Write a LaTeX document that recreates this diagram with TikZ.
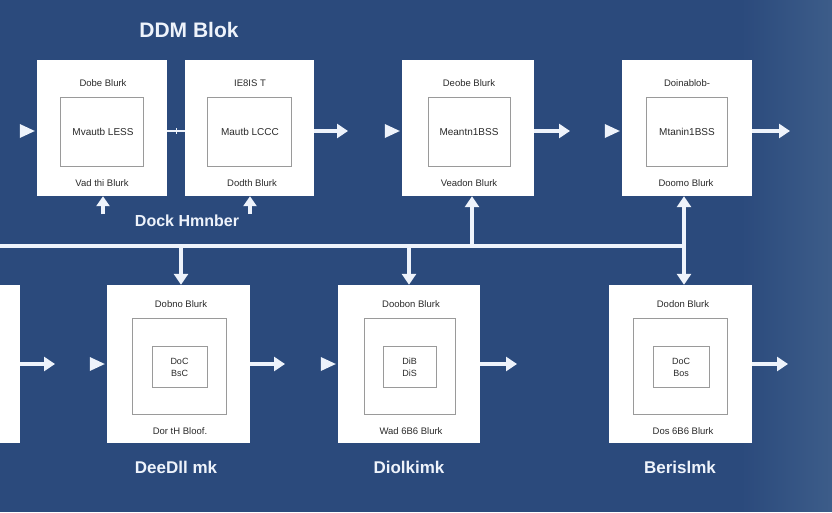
\documentclass[tikz,border=0pt]{standalone}
\usepackage{fontspec}
\setmainfont{Liberation Sans}
\usetikzlibrary{arrows.meta,calc}
\definecolor{bgblue}{HTML}{2B4A7C}
\definecolor{bgright}{HTML}{3C5C89}
\definecolor{arrowcol}{HTML}{EEF3FB}
\definecolor{boxtext}{HTML}{2A2A2A}
\definecolor{innerline}{HTML}{9A9A9A}
\tikzset{
  outerbox/.style={draw=none,fill=white,inner sep=0pt},
  innerbox/.style={draw=innerline,line width=0.8pt,fill=white,inner sep=0pt},
  boxlabel/.style={text=boxtext,font=\fontsize{9.5}{11}\selectfont,inner sep=0pt},
  innerlabel/.style={text=boxtext,font=\fontsize{10}{11}\selectfont,inner sep=0pt},
  coretext/.style={text=boxtext,font=\fontsize{9}{12}\selectfont,align=center,inner sep=0pt},
  heading/.style={text=arrowcol,font=\bfseries\fontsize{17}{19}\selectfont,inner sep=0pt},
  flow/.style={draw=arrowcol,line width=3.5pt,-{Triangle[length=11pt,width=14pt]}},
  bus/.style={draw=arrowcol,line width=3.5pt},
  tip/.style={fill=arrowcol}
}
\begin{document}
\begin{tikzpicture}[x=1pt,y=-1pt]
\useasboundingbox (0,0) rectangle (832,512);
\fill[bgblue] (0,0) rectangle (832,512);
\foreach \i in {0,...,45}{
  \pgfmathsetmacro{\pc}{100*\i/45}
  \fill[bgright!\pc!bgblue] (740+2*\i,0) rectangle (742.5+2*\i,512);
}

% title
\node[heading,font=\bfseries\fontsize{21}{23}\selectfont] (title) at (189,30) {DDM Blok};
\node[heading,font=\bfseries\fontsize{16}{18}\selectfont] (sub) at (187,221) {Dock Hmnber};

% top row
\node[outerbox,minimum width=130pt,minimum height=136pt] (b1) at (102,128) {};
\node[outerbox,minimum width=129pt,minimum height=136pt] (b2) at (249.5,128) {};
\node[outerbox,minimum width=132pt,minimum height=136pt] (b3) at (468,128) {};
\node[outerbox,minimum width=130pt,minimum height=136pt] (b4) at (687,128) {};

\node[innerbox,minimum width=83pt,minimum height=69pt] (i1) at (101.5,131.5) {};
\node[innerbox,minimum width=84pt,minimum height=69pt] (i2) at (249,131.5) {};
\node[innerbox,minimum width=82pt,minimum height=69pt] (i3) at (469,131.5) {};
\node[innerbox,minimum width=81pt,minimum height=69pt] (i4) at (686.5,131.5) {};

\node[boxlabel] (t1) at (103,83) {Dobe Blurk};
\node[boxlabel] (t2) at (250,83) {IE8IS T};
\node[boxlabel] (t3) at (469,83) {Deobe Blurk};
\node[boxlabel] (t4) at (687,83) {Doinablob-};
\node[innerlabel] (m1) at (103,132) {Mvautb LESS};
\node[innerlabel] (m2) at (250,132) {Mautb LCCC};
\node[innerlabel] (m3) at (469,132) {Meantn1BSS};
\node[innerlabel] (m4) at (687,132) {Mtanin1BSS};
\node[boxlabel] (u1) at (102,183) {Vad thi Blurk};
\node[boxlabel] (u2) at (252,183) {Dodth Blurk};
\node[boxlabel] (u3) at (469,183) {Veadon Blurk};
\node[boxlabel] (u4) at (686,183) {Doomo Blurk};

% bottom row
\node[outerbox,minimum width=25pt,minimum height=158pt] (b0) at (7.5,364) {};
\node[outerbox,minimum width=143pt,minimum height=158pt] (b5) at (178.5,364) {};
\node[outerbox,minimum width=142pt,minimum height=158pt] (b6) at (409,364) {};
\node[outerbox,minimum width=143pt,minimum height=158pt] (b7) at (680.5,364) {};

\node[innerbox,minimum width=94pt,minimum height=96pt] (j5) at (179,366) {};
\node[innerbox,minimum width=91pt,minimum height=96pt] (j6) at (409.5,366) {};
\node[innerbox,minimum width=94pt,minimum height=96pt] (j7) at (680,366) {};
\node[innerbox,minimum width=55pt,minimum height=41pt] (k5) at (179.5,366.5) {};
\node[innerbox,minimum width=53pt,minimum height=41pt] (k6) at (409.5,366.5) {};
\node[innerbox,minimum width=56pt,minimum height=41pt] (k7) at (681,366.5) {};
\node[coretext] (c5) at (179.5,367) {DoC\\BsC};
\node[coretext] (c6) at (409.5,367) {DiB\\DiS};
\node[coretext] (c7) at (681,367) {DoC\\Bos};

\node[boxlabel] (t5) at (181,304) {Dobno Blurk};
\node[boxlabel] (t6) at (411,304) {Doobon Blurk};
\node[boxlabel] (t7) at (683,304) {Dodon Blurk};
\node[boxlabel] (u5) at (180,431) {Dor tH Bloof.};
\node[boxlabel] (u6) at (411,431) {Wad 6B6 Blurk};
\node[boxlabel] (u7) at (683,431) {Dos 6B6 Blurk};

\node[heading] (h5) at (176,467) {DeeDll mk};
\node[heading] (h6) at (409,467) {Diolkimk};
\node[heading] (h7) at (680,467) {Berislmk};

% coordinates
\coordinate (o2) at (348,131);
\coordinate (o3) at (570,131);
\coordinate (o4) at (790,131);
\coordinate (o0) at (55,364);
\coordinate (o5) at (285,364);
\coordinate (o6) at (517,364);
\coordinate (o7) at (788,364);
\coordinate (p1) at (103,214);
\coordinate (p2) at (250,214);
\coordinate (busL) at (0,246);
\coordinate (busR) at (686,246);
\coordinate (q3) at (472,246);
\coordinate (q4) at (684,246);
\coordinate (r5) at (181,246);
\coordinate (r6) at (409,246);

% top row flows
\draw[flow] (b2.east |- o2) -- (o2);
\draw[flow] (b3.east |- o3) -- (o3);
\draw[flow] (b4.east |- o4) -- (o4);
\draw[arrowcol,line width=1.6pt] (b1.east |- 0,131) -- (b2.west |- 0,131);
\draw[arrowcol,line width=1pt] (176,128) -- (176,134);

% entry triangles
\foreach \b/\y in {b1/131,b3/131,b4/131,b5/364,b6/364}{
  \fill[tip] ($(\b.west |- 0,\y)+(-17,-7)$) -- ($(\b.west |- 0,\y)+(-2,0)$) -- ($(\b.west |- 0,\y)+(-17,7)$) -- cycle;
}

% bottom row flows
\draw[flow] (b0.east |- o0) -- (o0);
\draw[flow] (b5.east |- o5) -- (o5);
\draw[flow] (b6.east |- o6) -- (o6);
\draw[flow] (b7.east |- o7) -- (o7);

% upward arrows under first boxes
\draw[flow,-{Triangle[length=10pt,width=13pt]}] (p1) -- (b1.south -| p1);
\draw[flow,-{Triangle[length=10pt,width=13pt]}] (p2) -- (b2.south -| p2);

% bus
\draw[bus] (busL) -- (busR);
\draw[flow] (q3) -- (b3.south -| q3);
\draw[flow] (q4) -- (b4.south -| q4);
\draw[flow] (r5) -- (b5.north -| r5);
\draw[flow] (r6) -- (b6.north -| r6);
\draw[flow] (q4) -- (b7.north -| q4);
\end{tikzpicture}
\end{document}
